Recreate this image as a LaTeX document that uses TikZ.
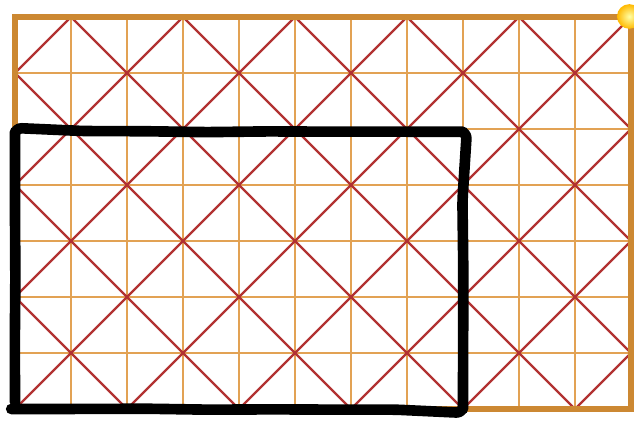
\documentclass[tikz,border=0pt]{standalone}
\usetikzlibrary{decorations.pathmorphing}
\definecolor{gridorange}{RGB}{226,162,84}
\definecolor{frameorange}{RGB}{204,136,50}
\definecolor{diagred}{RGB}{178,50,50}
\begin{document}
\begin{tikzpicture}[x=1cm,y=1cm]
\useasboundingbox (-0.268,-0.214) rectangle (11.054,7.304);
\draw[gridorange,line width=0.036cm] (0,0) grid (11,7);
\begin{scope}
\clip (0,0) rectangle (11,7);
\foreach \k in {-6,-4,...,10}
  \draw[diagred,line width=0.042cm] (\k,0) -- ++(7,7);
\foreach \k in {0,2,...,18}
  \draw[diagred,line width=0.042cm] (\k,0) -- ++(-7,7);
\end{scope}
\draw[frameorange,line width=0.11cm] (0,0) rectangle (11,7);
\shade[inner color=yellow!35!white,outer color=orange!55!yellow] (10.97,7.01) circle (0.22);
\pgfmathsetseed{7}
\draw[line width=0.19cm,line join=round,line cap=round,rounded corners=0.12cm,
  decorate,decoration={random steps,segment length=1.1cm,amplitude=0.014cm}]
  (0,0) -- (0,4.95) -- (8,4.95) -- (8,0) -- cycle;
\end{tikzpicture}
\end{document}
